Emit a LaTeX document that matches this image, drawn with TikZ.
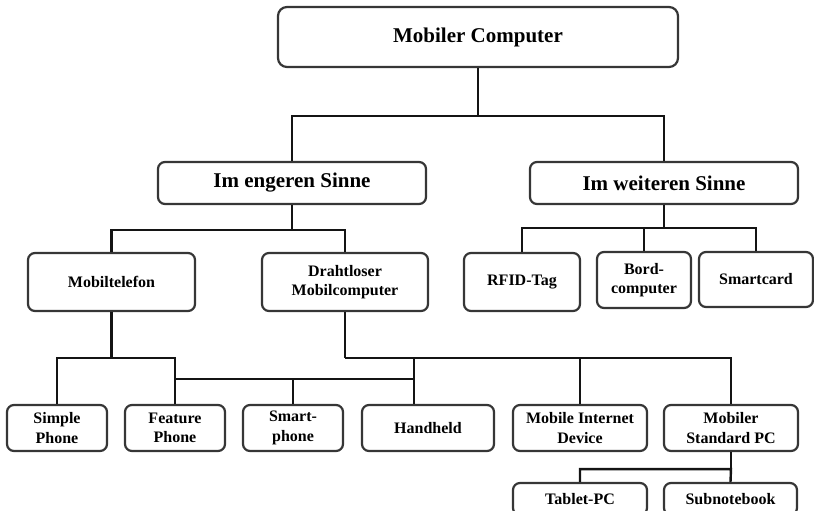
\documentclass[tikz,border=0pt]{standalone}
\usepackage{fontspec}
\setmainfont{Liberation Serif}
\begin{document}
\begin{tikzpicture}[x=1pt,y=-1pt,
  box/.style={draw=boxline, line width=2.2pt, rounded corners=7pt, fill=white,
    inner sep=0pt, align=center, font=\bfseries\fontsize{16}{19.3}\selectfont},
  bigbox/.style={box, font=\bfseries\fontsize{21}{25}\selectfont},
  conn/.style={draw=connline, line width=2.4pt}]
\definecolor{boxline}{HTML}{363636}
\definecolor{connline}{HTML}{141414}
\useasboundingbox (0,0) rectangle (814,511);
\clip (0,0) rectangle (814,511);

% top level
\node[bigbox, minimum width=400pt, minimum height=60pt, rounded corners=9pt] (top) at (478,37) {Mobiler Computer};
\node[bigbox, minimum width=268pt, minimum height=42pt] (eng) at (292,183) {Im engeren Sinne};
\node[bigbox, minimum width=268pt, minimum height=42pt] (wei) at (664,183) {Im weiteren Sinne};

% second level
\node[box, minimum width=167pt, minimum height=58pt] (mob) at (111.5,282) {Mobiltelefon};
\node[box, minimum width=166pt, minimum height=58pt] (draht) at (345,282) {Drahtloser\\Mobilcomputer};
\node[box, minimum width=116pt, minimum height=58pt] (rfid) at (522,282) {RFID-Tag};
\node[box, minimum width=94pt, minimum height=56pt] (bord) at (644,280) {Bord-\\computer};
\node[box, minimum width=114pt, minimum height=55pt] (smart) at (756,279.5) {Smartcard};

% device row
\node[box, minimum width=100pt, minimum height=46pt] (simple) at (57,428) {Simple\\Phone};
\node[box, minimum width=100pt, minimum height=46pt] (feat) at (175,428) {Feature\\Phone};
\node[box, minimum width=100pt, minimum height=46pt] (smph) at (293,428) {Smart-\\phone};
\node[box, minimum width=132pt, minimum height=46pt] (hand) at (428,428) {Handheld};
\node[box, minimum width=134pt, minimum height=46pt] (mid) at (580,428) {Mobile Internet\\Device};
\node[box, minimum width=134pt, minimum height=46pt] (mspc) at (731,428) {Mobiler\\Standard PC};

% PC variants
\node[box, minimum width=134pt, minimum height=32pt] (tab) at (580,499) {Tablet-PC};
\node[box, minimum width=133pt, minimum height=32pt] (sub) at (730.5,499) {Subnotebook};

% connectors
\draw[conn] (top.south) -- ++(0,48) coordinate (j1);
\draw[conn] (eng.north) |- (j1) -| (wei.north);

\draw[conn] (eng.south) -- ++(0,25) coordinate (j2);
\draw[conn] (mob.north) |- (j2) -| (draht.north);

\draw[conn] (wei.south) -- ++(0,23) coordinate (j3);
\draw[conn] (rfid.north) |- (j3) -| (smart.north);
\draw[conn] (bord.north) -- (bord.north |- j3);

\draw[conn] (mob.south) -- ++(0,46) coordinate (j4);
\draw[conn] (simple.north) |- (j4) -| (feat.north);

\coordinate (hh) at ([xshift=-14pt]hand.north);
\draw[conn] (draht.south) -- ++(0,46) coordinate (j5);
\draw[conn] (j5) -| (mspc.north);
\draw[conn] (hh) -- (hh |- j5);
\draw[conn] (mid.north) -- (mid.north |- j5);

\draw[conn] ([yshift=25pt]feat.north) -- ([yshift=25pt]hh);
\draw[conn] (smph.north) -- ([yshift=25pt]smph.north);

\draw[conn] (mspc.south) -- ++(0,17) coordinate (j6);
\draw[conn] (tab.north) |- (j6) -- (sub.north);
\end{tikzpicture}
\end{document}
